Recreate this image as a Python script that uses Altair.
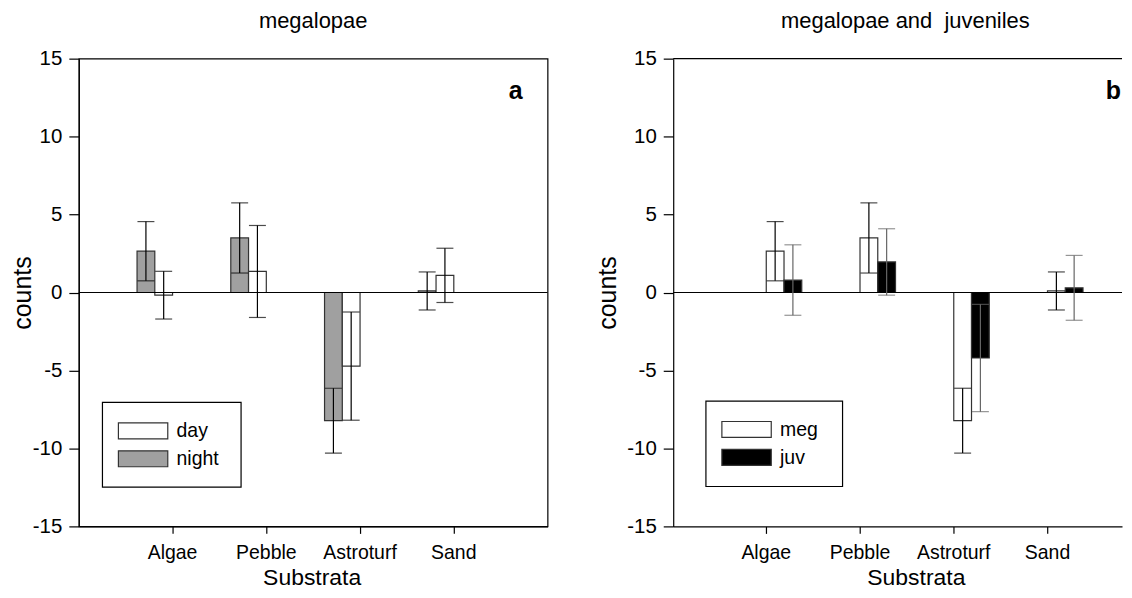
import altair as alt
import pandas as pd

categories = ["Algae", "Pebble", "Astroturf", "Sand"]

# panel a: megalopae, night vs day (mean and error half-width)
night_mean = [2.65, 3.5, -8.22, 0.1]
night_err = [1.9, 2.25, 2.08, 1.22]
day_mean = [-0.17, 1.35, -4.72, 1.1]
day_err = [1.53, 2.95, 3.47, 1.74]

# panel b: megalopae vs juveniles
meg_mean = [2.65, 3.5, -8.22, 0.1]
meg_err = [1.9, 2.25, 2.08, 1.22]
juv_mean = [0.8, 1.96, -4.2, 0.3]
juv_err = [2.26, 2.13, 3.44, 2.08]

y_ticks = [-15, -10, -5, 0, 5, 10, 15]

FONT = "Liberation Sans"
H = 469


def frame(series_names, means, errs):
    rows = []
    for s, m, e in zip(series_names, means, errs):
        for c, mv, ev in zip(categories, m, e):
            rows.append({"Substrata": c, "series": s, "mean": mv,
                         "lo": mv - ev, "hi": mv + ev})
    return pd.DataFrame(rows)


def panel(df, title, title_x, width, xscale, series_order, legend_order,
          fills, err_colors, letter, letter_x, box, ytitle_pad, xtitle_x,
          boxed):
    x = alt.X("Substrata:N", sort=categories, scale=xscale,
              axis=alt.Axis(title=None, labelAngle=0, tickSize=7,
                            labelPadding=10, labelFontSize=19.5, grid=False))
    xo = alt.XOffset("series:N", sort=series_order,
                     scale=alt.Scale(domain=series_order, paddingInner=0,
                                     paddingOuter=0.64))
    yscale = alt.Scale(domain=[-15, 15], nice=False, zero=False)
    yaxis = alt.Axis(values=y_ticks, title="counts", tickSize=10, grid=False,
                     labelPadding=7, labelFontSize=20.5, titleFontSize=25,
                     labelExpr="'' + datum.value",
                     titlePadding=ytitle_pad, titleAngle=270,
                     titleBaseline="alphabetic", titleAlign="center")
    fscale = alt.Scale(domain=legend_order, range=fills)

    bars = alt.Chart(df).mark_bar(stroke="#333333", strokeWidth=1.2,
                                  opacity=1).encode(
        x=x, xOffset=xo,
        y=alt.Y("mean:Q", scale=yscale, axis=yaxis),
        y2=alt.datum(0),
        fill=alt.Fill("series:N", scale=fscale, legend=None),
    )

    zero = alt.Chart(pd.DataFrame({"zero": [0]})).mark_rule(
        color="black", strokeWidth=1.2).encode(
        y=alt.Y("zero:Q", scale=yscale, axis=yaxis))
    top = alt.Chart(pd.DataFrame({"top": [15]})).mark_rule(
        color="black", strokeWidth=1.2).encode(
        y=alt.Y("top:Q", scale=yscale, axis=yaxis))

    ecolor = alt.Color("series:N",
                       scale=alt.Scale(domain=series_order, range=err_colors),
                       legend=None)
    rules = alt.Chart(df).mark_rule(strokeWidth=1.2).encode(
        x=x, xOffset=xo,
        y=alt.Y("lo:Q", scale=yscale, axis=yaxis), y2="hi:Q", color=ecolor)
    caps_lo = alt.Chart(df).mark_tick(size=17, thickness=1.2).encode(
        x=x, xOffset=xo, y=alt.Y("lo:Q", scale=yscale, axis=yaxis),
        color=ecolor)
    caps_hi = alt.Chart(df).mark_tick(size=17, thickness=1.2).encode(
        x=x, xOffset=xo, y=alt.Y("hi:Q", scale=yscale, axis=yaxis),
        color=ecolor)

    tag = alt.Chart(pd.DataFrame({"t": [letter]})).mark_text(
        font=FONT, fontSize=25, fontWeight="bold", align="right",
        baseline="alphabetic", color="black").encode(
        x=alt.value(letter_x), y=alt.value(40), text="t:N")

    heading = alt.Chart(pd.DataFrame({"t": [title]})).mark_text(
        font=FONT, fontSize=22, align="center", baseline="alphabetic",
        color="black").encode(
        x=alt.value(title_x), y=alt.value(-31), text="t:N")

    xtitle = alt.Chart(pd.DataFrame({"t": ["Substrata"]})).mark_text(
        font=FONT, fontSize=23, align="center", baseline="alphabetic",
        color="black").encode(
        x=alt.value(xtitle_x), y=alt.value(H + 58.5), text="t:N")

    # legend box with swatches drawn through the same fill scale
    bx, by, bw, bh = box
    frame_rect = alt.Chart(pd.DataFrame({"k": [0]})).mark_rect(
        fill="white", stroke="black", strokeWidth=1.2).encode(
        x=alt.value(bx), x2=alt.value(bx + bw),
        y=alt.value(by), y2=alt.value(by + bh))
    legend_layers = [frame_rect]
    for i, name in enumerate(legend_order):
        sy = by + 20.5 + i * 28
        one = alt.Chart(pd.DataFrame({"series": [name]}))
        legend_layers.append(one.mark_rect(
            stroke="#333333", strokeWidth=1.2).encode(
            x=alt.value(bx + 16), x2=alt.value(bx + 65.5),
            y=alt.value(sy), y2=alt.value(sy + 16),
            fill=alt.Fill("series:N", scale=fscale, legend=None)))
        legend_layers.append(one.mark_text(
            font=FONT, fontSize=19.5, align="left", baseline="middle",
            color="black").encode(
            x=alt.value(bx + 74.3), y=alt.value(sy + 8.5), text="series:N"))

    layers = ([bars, zero, rules, caps_lo, caps_hi, tag, heading, xtitle]
              + legend_layers)
    if not boxed:
        layers.append(top)
    ch = alt.layer(*layers).properties(width=width, height=H)
    if not boxed:
        ch = ch.properties(view=alt.ViewBackground(stroke="transparent"))
    return ch


df_a = frame(["night", "day"], [night_mean, day_mean], [night_err, day_err])
df_b = frame(["meg", "juv"], [meg_mean, juv_mean], [meg_err, juv_err])

xscale_a = alt.Scale(domain=categories, paddingInner=0, paddingOuter=0.5)
xscale_b = alt.Scale(domain=categories, paddingInner=0, paddingOuter=0.3936,
                     align=0.6257)

pa = panel(df_a, "megalopae", 235, 470, xscale_a, ["night", "day"],
           ["day", "night"], ["white", "#a0a0a0"], ["black", "black"], "a",
           445, (23.7, 344.7, 139, 85), 1.4, 234, True)
pb = panel(df_b, "megalopae and\u00a0 juveniles", 232.8, 450, xscale_b,
           ["meg", "juv"], ["meg", "juv"], ["white", "black"],
           ["black", "#666666"], "b", 449, (32.8, 343.3, 137, 85.7), 11,
           243.8, False)

chart = alt.hconcat(pa, pb, spacing=45).resolve_scale(
    fill="independent", color="independent", x="independent"
).properties(
    padding={"left": 2, "top": 0, "right": 0, "bottom": 0},
    background="white"
).configure_view(
    stroke="black", strokeWidth=1.2
).configure_axis(
    grid=False, domainColor="black", domainWidth=1.2, tickColor="black",
    tickWidth=1.2, labelColor="black", titleColor="black", labelFont=FONT,
    titleFont=FONT, titleFontWeight="normal"
)

chart.save("out.html", embed_options={"renderer": "svg", "actions": False})
